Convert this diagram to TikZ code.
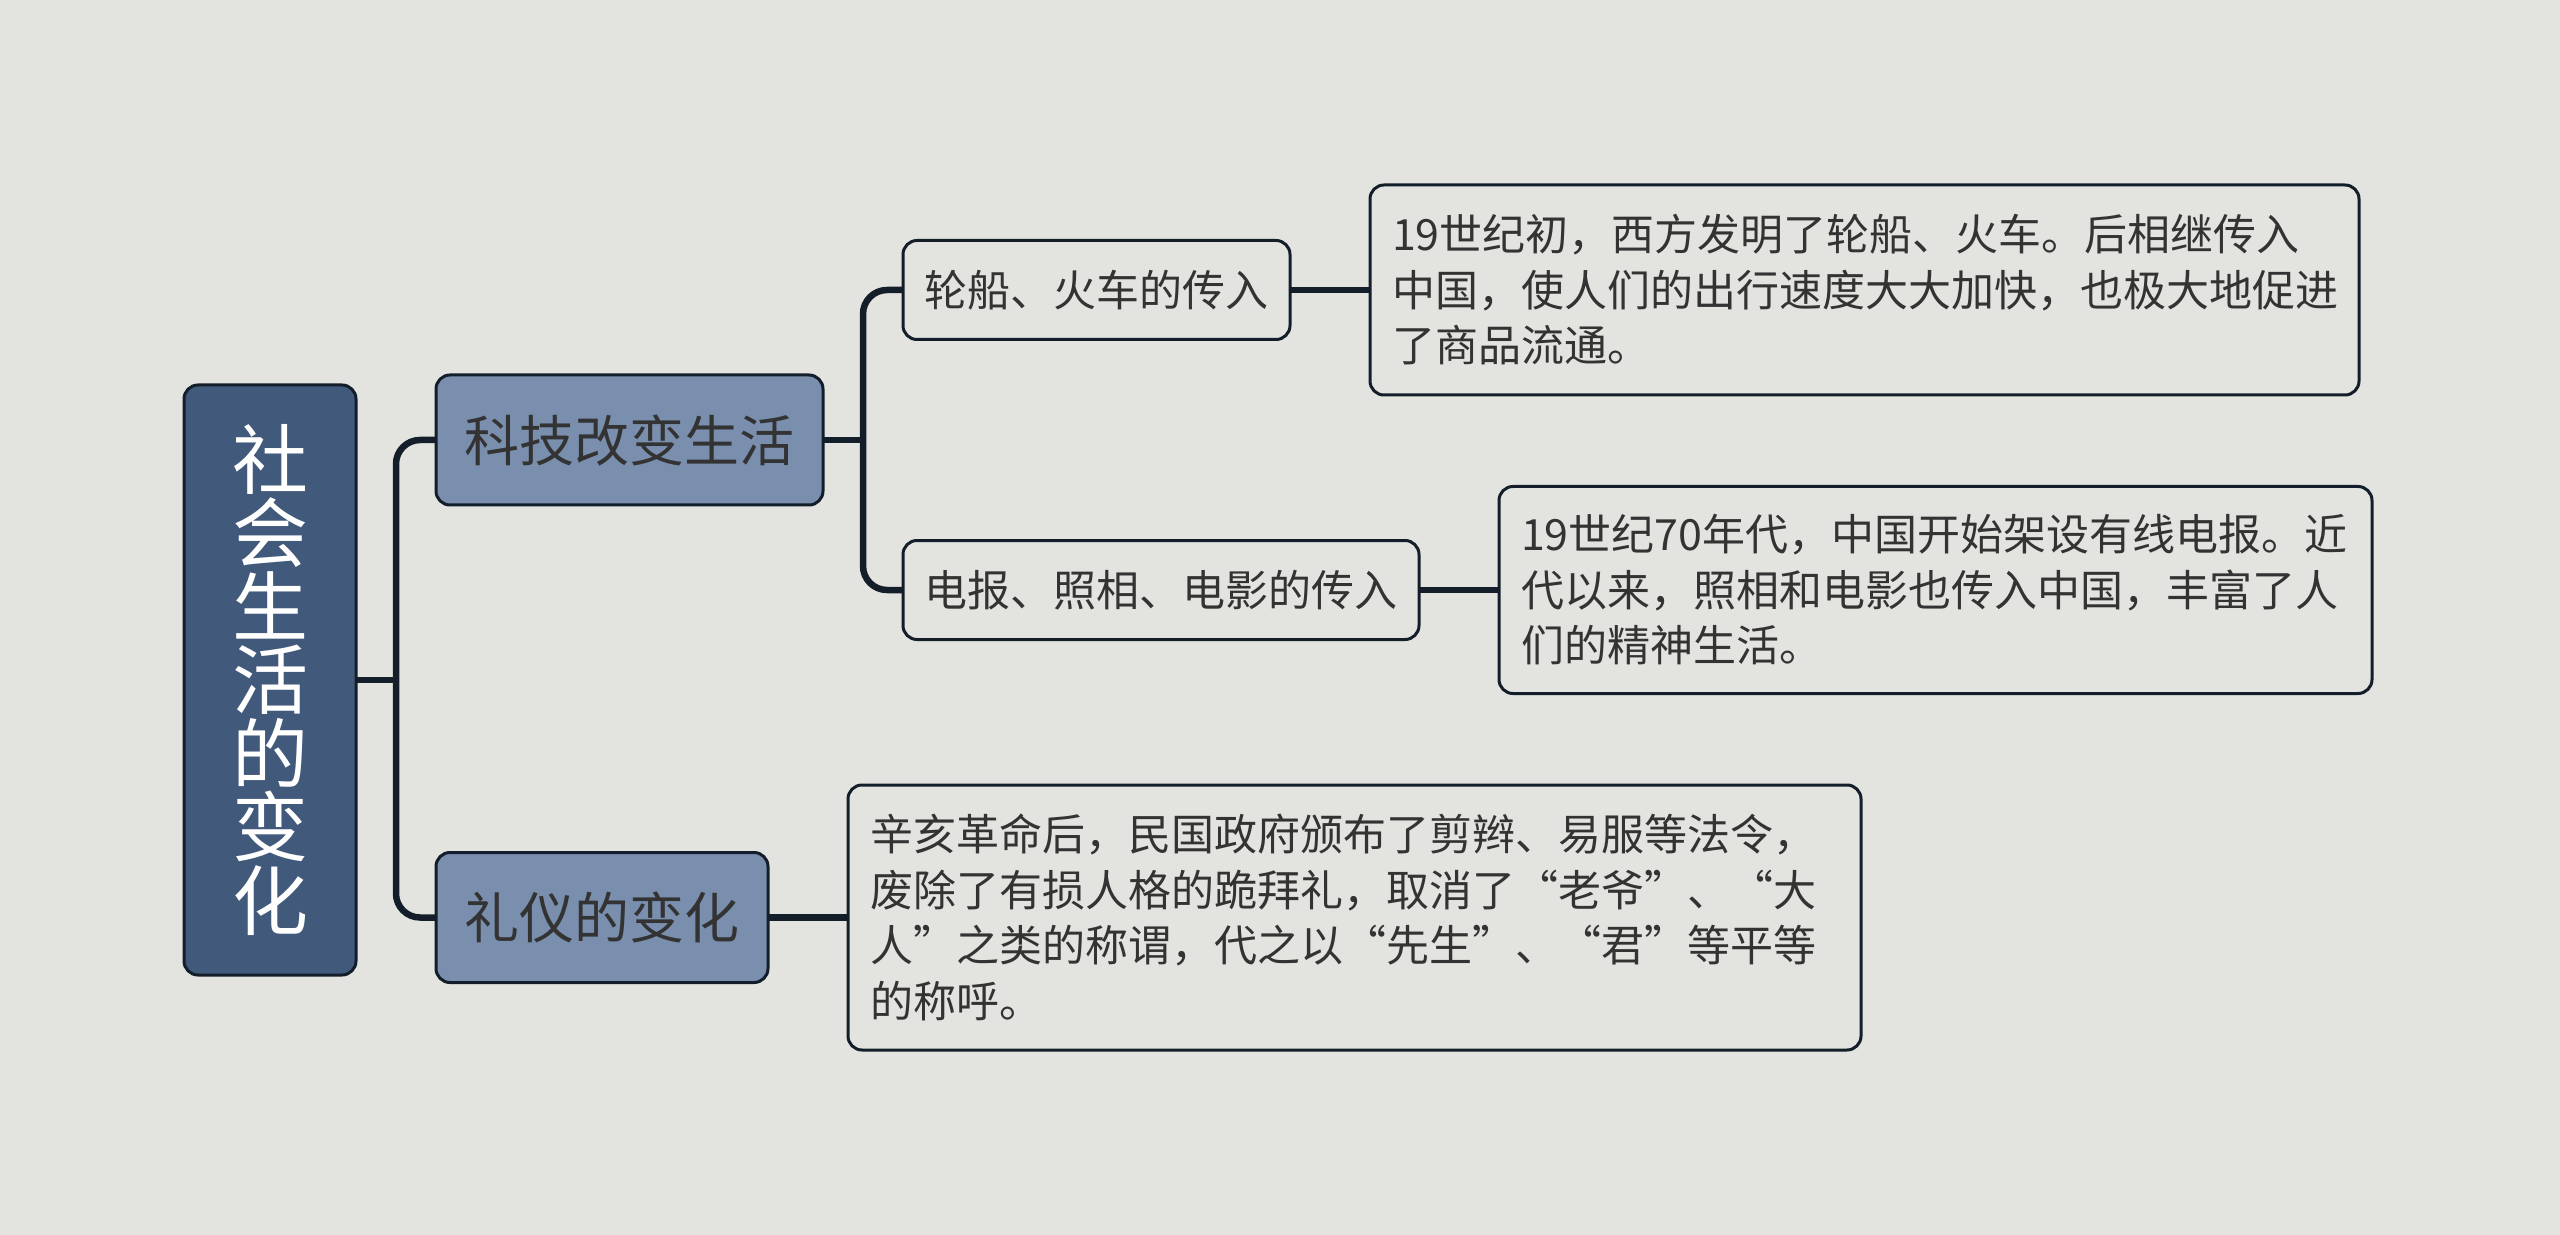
\documentclass[tikz,border=0pt]{standalone}
\usepackage{fontspec}
\setmainfont{Noto Sans CJK SC}
\usetikzlibrary{positioning}
\definecolor{bgcol}{RGB}{227,228,223}
\definecolor{rootcol}{RGB}{65,89,122}
\definecolor{topiccol}{RGB}{122,143,174}
\definecolor{linecol}{RGB}{20,30,43}
\definecolor{textcol}{RGB}{51,51,51}
\newcommand{\qopen}{\makebox[1em][r]{“}}
\newcommand{\qclose}{\makebox[1em][l]{”}}

\begin{document}
\begin{tikzpicture}[x=0.5pt, y=-0.5pt, node distance=40pt,
  every node/.style={
    rectangle, rounded corners=7pt, draw=linecol, line width=1.5pt,
    text=textcol, inner ysep=0pt, outer sep=0pt
  },
  rootbox/.style={fill=rootcol, text=white, align=center, inner xsep=0pt,
    minimum width=86pt, minimum height=295pt,
    font=\fontsize{38}{36.75}\selectfont},
  topicbox/.style={fill=topiccol, minimum height=65pt, inner xsep=14.25pt,
    font=\fontsize{27.5}{30}\selectfont},
  subbox/.style={fill=bgcol, minimum height=49.5pt, inner xsep=10.75pt,
    font=\fontsize{21.5}{24}\selectfont},
  notebox/.style={fill=bgcol, align=left, inner xsep=11pt,
    font=\fontsize{21.5}{27.75}\selectfont},
  link/.style={draw=linecol, line width=3.25pt, rounded corners=12pt}]
\fill[bgcol] (0,0) rectangle (2560,1235);
\useasboundingbox (0,0) rectangle (2560,1235);
% main topic and branches
\node[rootbox] (root) at (270,680) {社\\会\\生\\活\\的\\变\\化};
\node[topicbox, right=of root, yshift=120pt] (tech) {科技改变生活};
\node[topicbox, right=of root, yshift=-118.75pt] (etiq) {礼仪的变化};
\node[subbox, right=of tech, yshift=75pt] (ship) {轮船、火车的传入};
\node[subbox, right=of tech, yshift=-75pt] (wire) {电报、照相、电影的传入};
% notes
\node[notebox, right=of ship, text width=472.5pt, minimum height=105pt] (shipnote)
  {19世纪初，西方发明了轮船、火车。后相继传入\\中国，使人们的出行速度大大加快，也极大地促进\\了商品流通。};
\node[notebox, right=of wire, text width=414.5pt, minimum height=103.5pt] (wirenote)
  {19世纪70年代，中国开始架设有线电报。近\\代以来，照相和电影也传入中国，丰富了人\\们的精神生活。};
\node[notebox, right=of etiq, text width=484.5pt, minimum height=132.5pt] (etiqnote)
  {辛亥革命后，民国政府颁布了剪辫、易服等法令，\\废除了有损人格的跪拜礼，取消了\qopen 老爷\qclose 、\qopen 大\\人\qclose 之类的称谓，代之以\qopen 先生\qclose 、\qopen 君\qclose 等平等\\的称呼。};
% connectors
\coordinate[right=20pt of root] (rootfork);
\coordinate[right=20pt of tech] (techfork);
\draw[link] (root.east) -- (rootfork);
\draw[link] (tech.west) -| (rootfork) |- (etiq.west);
\draw[link] (tech.east) -- (techfork);
\draw[link] (ship.west) -| (techfork) |- (wire.west);
\draw[link] (ship) -- (shipnote);
\draw[link] (wire) -- (wirenote);
\draw[link] (etiq) -- (etiqnote);
\end{tikzpicture}
\end{document}
